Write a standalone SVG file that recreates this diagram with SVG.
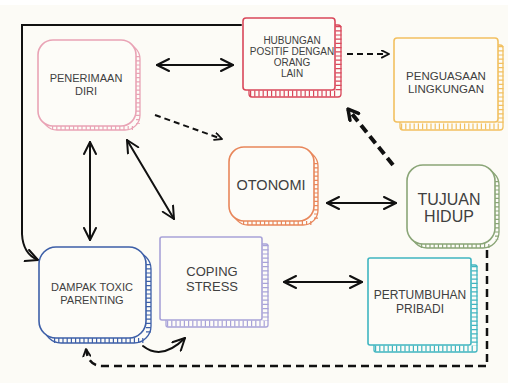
<svg xmlns="http://www.w3.org/2000/svg" width="508" height="383" viewBox="0 0 508 383">
<defs>
<style>
.face{fill:#fdfcf8;stroke-width:1.6}
.back{fill:#fdfcf8;stroke-width:1.3}
.tick{fill:none;stroke-dasharray:1.2 3}
.t{font-family:"Liberation Sans",Arial,sans-serif;fill:#404040;text-anchor:middle}
.ln{fill:none;stroke:#111;stroke-width:2;stroke-linecap:round}
.dash{fill:none;stroke:#111;stroke-width:2;stroke-dasharray:6 4}
</style>
<marker id="ah" viewBox="0 0 14 14" refX="13" refY="7" markerWidth="14" markerHeight="14" markerUnits="userSpaceOnUse" orient="auto-start-reverse">
<path d="M1,1 L13,7 L1,13" fill="none" stroke="#111" stroke-width="2" stroke-linecap="round" stroke-linejoin="round"/>
</marker>
<marker id="ahs" viewBox="0 0 10 10" refX="9" refY="5" markerWidth="9" markerHeight="9" markerUnits="userSpaceOnUse" orient="auto-start-reverse">
<path d="M1,1 L9,5 L1,9" fill="none" stroke="#111" stroke-width="2" stroke-linecap="round" stroke-linejoin="round"/>
</marker>
<marker id="ahb" viewBox="0 0 14 14" refX="12" refY="7" markerWidth="14" markerHeight="14" markerUnits="userSpaceOnUse" orient="auto">
<path d="M2,1.5 L12,7 L2,12.5" fill="none" stroke="#111" stroke-width="3.5" stroke-linecap="round" stroke-linejoin="round"/>
</marker>
</defs>
<rect width="508" height="383" fill="#fcfbf6"/>
<rect width="508" height="5" fill="#ffffff"/>

<g id="connectors">
<path class="ln" d="M241,25 H22 V234 Q23,254 38,260" marker-end="url(#ah)"/>
<path class="ln" d="M157,65 H233" marker-start="url(#ah)" marker-end="url(#ah)"/>
<path class="dash" d="M347,54 H389" marker-end="url(#ahs)"/>
<path class="dash" d="M155,115 L222,139" marker-end="url(#ahs)"/>
<path d="M393,165 L348,109" fill="none" stroke="#111" stroke-width="4" stroke-dasharray="9 5" marker-end="url(#ahb)"/>
<path class="ln" d="M327,203 H396" marker-start="url(#ah)" marker-end="url(#ah)"/>
<path class="ln" d="M90,142 V240" marker-start="url(#ah)" marker-end="url(#ah)"/>
<path class="ln" d="M127,140 L174,219" marker-start="url(#ah)" marker-end="url(#ah)"/>
<path class="ln" d="M284,282 H362" marker-start="url(#ah)" marker-end="url(#ah)"/>
<path class="ln" d="M143,346 Q162,361 185,338" marker-end="url(#ah)"/>
<path d="M487,250 V366 H102 Q88,366 86,349" fill="none" stroke="#111" stroke-width="2.5" stroke-dasharray="8 5" marker-end="url(#ahs)"/>
</g>

<g id="penerimaan-diri">
<rect class="back" x="42" y="44" width="98" height="86" rx="15" stroke="#e9a3b5"/>
<path class="tick" d="M52,128 H136 M138,56 V124" stroke="#e9a3b5" stroke-width="4"/>
<rect class="face" x="38" y="40" width="98" height="86" rx="15" stroke="#e9a3b5"/>
<text class="t" font-size="11" x="86" y="82">PENERIMAAN</text>
<text class="t" font-size="11" x="86" y="95">DIRI</text>
</g>

<g id="hubungan-positif">
<rect class="back" x="249" y="25" width="92" height="72" rx="3" stroke="#d9475a"/>
<path class="tick" d="M250,93.5 H338 M338.5,26 V92" stroke="#d9475a" stroke-width="6"/>
<rect class="face" x="243" y="18" width="92" height="72" rx="3" stroke="#d9475a"/>
<text class="t" font-size="10" x="292" y="44">HUBUNGAN</text>
<text class="t" font-size="10" x="292" y="55">POSITIF DENGAN</text>
<text class="t" font-size="10" x="292" y="66">ORANG</text>
<text class="t" font-size="10" x="292" y="77">LAIN</text>
</g>

<g id="penguasaan-lingkungan">
<rect class="back" x="400" y="45" width="103" height="85" rx="3" stroke="#f2c060"/>
<path class="tick" d="M401,126.5 H499 M500.5,46 V124" stroke="#f2c060" stroke-width="6"/>
<rect class="face" x="394" y="38" width="104" height="84" rx="3" stroke="#f2c060"/>
<text class="t" font-size="11.5" x="446" y="80">PENGUASAAN</text>
<text class="t" font-size="11.5" x="446" y="93">LINGKUNGAN</text>
</g>

<g id="otonomi">
<rect class="back" x="233" y="151" width="85" height="74" rx="15" stroke="#e8865a"/>
<path class="tick" d="M243,223 H312 M316,163 V219" stroke="#e8865a" stroke-width="4"/>
<rect class="face" x="229" y="147" width="85" height="74" rx="15" stroke="#e8865a"/>
<text class="t" font-size="14.5" x="271" y="190">OTONOMI</text>
</g>

<g id="tujuan-hidup">
<rect class="back" x="411" y="169" width="88" height="79" rx="16" stroke="#8aa577"/>
<path class="tick" d="M421,246 H491 M497,181 V240" stroke="#8aa577" stroke-width="4"/>
<rect class="face" x="407" y="165" width="88" height="79" rx="16" stroke="#8aa577"/>
<text class="t" font-size="16" x="449" y="205">TUJUAN</text>
<text class="t" font-size="16" x="449" y="222">HIDUP</text>
</g>

<g id="dampak-toxic-parenting">
<rect class="back" x="44" y="252" width="107" height="91" rx="17" stroke="#3d5fa8"/>
<path class="tick" d="M54,340.5 H144 M148.5,264 V334" stroke="#3d5fa8" stroke-width="5"/>
<rect class="face" x="39" y="247" width="107" height="91" rx="17" stroke="#3d5fa8"/>
<text class="t" font-size="11" x="92" y="291">DAMPAK TOXIC</text>
<text class="t" font-size="11" x="92" y="304">PARENTING</text>
</g>

<g id="coping-stress">
<rect class="back" x="166" y="244" width="102" height="83" rx="2" stroke="#a8a2d8"/>
<path class="tick" d="M167,323.5 H265 M265.5,245 V321" stroke="#a8a2d8" stroke-width="6"/>
<rect class="face" x="160" y="237" width="102" height="83" rx="2" stroke="#a8a2d8"/>
<text class="t" font-size="13" x="212" y="276">COPING</text>
<text class="t" font-size="13" x="212" y="291">STRESS</text>
</g>

<g id="pertumbuhan-pribadi">
<rect class="back" x="374" y="265" width="103" height="87" rx="2" stroke="#3fb5c0"/>
<path class="tick" d="M375,348.5 H474 M474.5,266 V346" stroke="#3fb5c0" stroke-width="6"/>
<rect class="face" x="368" y="258" width="103" height="87" rx="2" stroke="#3fb5c0"/>
<text class="t" font-size="12" x="420" y="299">PERTUMBUHAN</text>
<text class="t" font-size="12" x="420" y="313">PRIBADI</text>
</g>
</svg>
